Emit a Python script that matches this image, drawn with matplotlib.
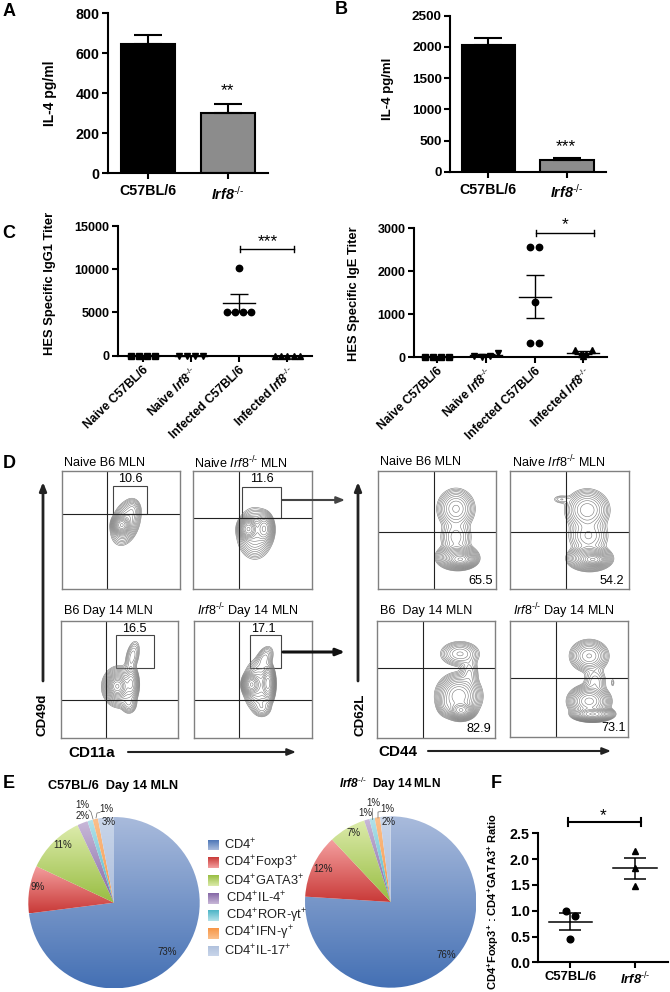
import numpy as np
import matplotlib
matplotlib.use('Agg')
import matplotlib.pyplot as plt
from matplotlib.colors import to_rgb
from matplotlib.patches import Rectangle

plt.rcParams['font.family'] = ['Liberation Sans', 'DejaVu Sans']
plt.rcParams['mathtext.fontset'] = 'custom'
plt.rcParams['mathtext.rm'] = 'Liberation Sans'
plt.rcParams['mathtext.it'] = 'Liberation Sans:italic'
plt.rcParams['mathtext.bf'] = 'Liberation Sans:bold'
plt.rcParams['mathtext.bfit'] = 'Liberation Sans:italic:bold'
plt.rcParams['mathtext.default'] = 'regular'

W, H = 670, 992

KO = r'$\mathbfit{Irf8}^{\text{-/-}}$'
KO_THIN = r'$\mathit{Irf8}^{\text{-/-}}$'

# panels A and B
strains = ['C57BL/6', KO]
il4_a = [647, 300]
il4_a_sem = [47, 48]
il4_b = [2030, 192]
il4_b_sem = [118, 32]

# panel C
titer_groups = ['Naive C57BL/6', 'Naive ' + KO, 'Infected C57BL/6', 'Infected ' + KO]
igg1 = [[20, 20, 20, 20], [20, 20, 20, 20],
        [5100, 5100, 10200, 5100, 5100], [20, 20, 20, 20, 20]]
igg1_mean = [20, 20, 6120, 20]
igg1_sem = [0, 0, 1020, 0]
ige = [[10, 10, 10, 10], [30, 10, 30, 100],
       [320, 2560, 1280, 2560, 320], [160, 60, 30, 60, 160]]
ige_mean = [10, 40, 1408, 100]
ige_sem = [0, 20, 500, 30]

# panel D
cd49d_names = ['Naive B6 MLN', 'Naive ' + KO_THIN + ' MLN', 'B6 Day 14 MLN', KO_THIN + ' Day 14 MLN']
cd49d_pct = ['10.6', '11.6', '16.5', '17.1']
cd62l_names = ['Naive B6 MLN', 'Naive ' + KO_THIN + ' MLN', 'B6  Day 14 MLN', KO_THIN + ' Day 14 MLN']
cd62l_pct = ['65.5', '54.2', '82.9', '73.1']

# density blobs: x, y, sx, sy, weight, rho
cd49d_blobs = [
    [(.507, .54, .028, .03, 1, 0), (.54, .56, .05, .075, .12, .3), (.6, .67, .03, .04, .035, 0)],
    [(.465, .507, .03, .035, 1, 0), (.6, .51, .03, .05, .35, 0), (.52, .47, .06, .085, .12, 0)],
    [(.48, .445, .032, .038, 1, 0), (.5, .44, .055, .065, .25, 0), (.61, .7, .03, .065, .035, .4),
     (.58, .3, .03, .04, .05, 0), (.6, .47, .025, .06, .2, 0)],
    [(.49, .46, .027, .035, 1, 0), (.63, .47, .022, .06, .6, 0), (.55, .45, .05, .085, .16, 0),
     (.6, .68, .035, .05, .04, .4), (.58, .26, .035, .035, .035, 0)],
]
cd62l_blobs = [
    [(.7, .25, .045, .025, 1, 0), (.67, .27, .065, .04, .35, 0), (.66, .68, .065, .07, .12, 0),
     (.66, .44, .06, .07, .05, 0)],
    [(.7, .25, .045, .022, 1, 0), (.67, .26, .07, .04, .35, 0), (.65, .67, .075, .07, .15, 0),
     (.66, .45, .075, .07, .06, 0), (.43, .76, .04, .02, .014, 0)],
    [(.71, .24, .04, .028, 1, 0), (.69, .36, .07, .07, .35, 0), (.7, .72, .07, .045, .07, 0),
     (.78, .55, .035, .07, .035, 0), (.59, .28, .035, .04, .05, 0)],
    [(.7, .2, .06, .022, 1, 0), (.67, .31, .065, .05, .4, 0), (.67, .7, .065, .055, .13, 0),
     (.72, .48, .045, .06, .03, 0), (.87, .47, .01, .025, .007, 0)],
]

# panel E
pie_labels = [r'CD4$^{+}$', r'CD4$^{+}$Foxp3$^{+}$', r'CD4$^{+}$GATA3$^{+}$', r'CD4$^{+}$IL-4$^{+}$',
              r'CD4$^{+}$ROR-γt$^{+}$', r'CD4$^{+}$IFN-γ$^{+}$', r'CD4$^{+}$IL-17$^{+}$']
pie_b6 = [73, 9, 11, 2, 1, 1, 3]
pie_irf8 = [76, 12, 7, 1, 1, 1, 2]
pie_top = ['#a9bbdc', '#f4a0a0', '#dcebab', '#c8b8d8', '#b4e2ea', '#fbc08c', '#c9d6ea']
pie_bottom = ['#4470b4', '#c93a38', '#98bd42', '#8568a6', '#4cb4c6', '#f79646', '#aebfdc']

# panel F
ratio_b6 = [1.0, 0.46, 0.9]
ratio_irf8 = [2.16, 1.82, 1.47]
ratio_mean = [0.79, 1.82]
ratio_sem = [0.165, 0.205]

fig = plt.figure(figsize=(W / 100, H / 100), dpi=100, facecolor='white')


def px_axes(x0, x1, ytop, ybot):
    return fig.add_axes([x0 / W, 1 - ybot / H, (x1 - x0) / W, (ybot - ytop) / H])


def style(ax, size=9, xsize=None):
    for s in ['top', 'right']:
        ax.spines[s].set_visible(False)
    for s in ['left', 'bottom']:
        ax.spines[s].set_linewidth(1.5)
    ax.tick_params(width=1.5, length=4, labelsize=size, pad=2)
    if xsize:
        ax.tick_params(axis='x', labelsize=xsize)
    for t in ax.get_yticklabels():
        t.set_fontweight('bold')
    for t in ax.get_xticklabels():
        t.set_fontweight('bold')


def bar_panel(box, vals, sem, ymax, yticks, xlim, size):
    ax = px_axes(*box)
    ax.bar(range(2), vals, width=0.68, color=['black', '#8c8c8c'], edgecolor='black', linewidth=1.5)
    ax.errorbar(range(2), vals, yerr=[[0, 0], sem], fmt='none', ecolor='black',
                elinewidth=1.5, capsize=10, capthick=1.5)
    ax.set_xlim(*xlim)
    ax.set_ylim(0, ymax)
    ax.set_yticks(yticks)
    ax.set_xticks(range(2))
    ax.set_xticklabels(strains)
    style(ax, size, 10.3)
    ax.tick_params(axis='x', pad=4)
    return ax


def spread(vals, step, tol):
    # points with nearly the same value sit side by side
    off = np.zeros(len(vals))
    used = [False] * len(vals)
    for i in range(len(vals)):
        if used[i]:
            continue
        grp = [j for j in range(len(vals)) if not used[j] and abs(vals[j] - vals[i]) <= tol]
        for k, j in enumerate(grp):
            used[j] = True
            off[j] = (k - (len(grp) - 1) / 2) * step
    return off


def titer_panel(box, data, means, sems, ymax, yticks, xlim, step):
    ax = px_axes(*box)
    markers = ['s', 'v', 'o', '^']
    spacing = (box[1] - box[0]) / (xlim[1] - xlim[0])
    for i, vals in enumerate(data):
        off = spread(vals, step[i] / spacing, ymax * 0.035)
        ax.plot(i + off, vals, markers[i], color='black', ms=4.6, ls='none', clip_on=False, zorder=3)
        ax.plot([i - 16 / spacing, i + 16 / spacing], [means[i]] * 2, color='black', lw=1, clip_on=False)
        if sems[i] > 0:
            ax.errorbar([i], [means[i]], yerr=sems[i], fmt='none', ecolor='black',
                        elinewidth=1, capsize=6.2, capthick=1)
    ax.set_xlim(*xlim)
    ax.set_ylim(0, ymax)
    ax.set_yticks(yticks)
    ax.set_xticks(range(4))
    ax.set_xticklabels(titer_groups, rotation=44, ha='right', rotation_mode='anchor')
    style(ax, 9, 8.7)
    ax.tick_params(axis='x', pad=2)
    return ax


def bracket(ax, x0, x1, y, cap, lw=1):
    ax.plot([x0, x1], [y, y], color='black', lw=lw, clip_on=False)
    ax.plot([x0, x0], [y - cap, y + cap], color='black', lw=lw, clip_on=False)
    ax.plot([x1, x1], [y - cap, y + cap], color='black', lw=lw, clip_on=False)


def flow_panel(box, vline, hline, blobs, gate=None):
    # box, lines and gate come in as image pixels
    ax = px_axes(box[0], box[1], box[2], box[3])
    ax.set_xlim(box[0], box[1])
    ax.set_ylim(box[3], box[2])
    ax.set_xticks([])
    ax.set_yticks([])
    for s in ax.spines.values():
        s.set_color('#808080')
        s.set_linewidth(1)
    gx, gy = np.meshgrid(np.linspace(0, 1, 300), np.linspace(0, 1, 300))
    z = np.zeros_like(gx)
    for cx, cy, sx, sy, w, rho in blobs:
        u = (gx - cx) / sx
        v = (gy - cy) / sy
        z += w * np.exp(-(u * u - 2 * rho * u * v + v * v) / (2 * (1 - rho * rho)))
    lev = z.max() * np.geomspace(0.004, 0.92, 17)
    ax.contour(box[0] + gx * (box[1] - box[0]), box[3] - gy * (box[3] - box[2]), z,
               levels=lev, colors='#777777', linewidths=0.4)
    ax.axvline(vline, color='#222222', lw=0.8)
    ax.axhline(hline, color='#222222', lw=0.8)
    if gate:
        ax.add_patch(Rectangle((gate[0], gate[2]), gate[1] - gate[0], gate[3] - gate[2],
                               fc='none', ec='#444444', lw=0.8))
    return ax


def gradient_fill(ax, patch, top, bottom):
    patch.set_facecolor('none')
    patch.set_edgecolor('none')
    b = patch.get_path().get_extents(patch.get_patch_transform())
    t = np.linspace(0, 1, 128)[:, None, None]
    img = (1 - t) * np.array(to_rgb(top)) + t * np.array(to_rgb(bottom))
    im = ax.imshow(img, extent=(b.x0, b.x1, b.y0, b.y1), aspect='auto', origin='upper', zorder=1)
    im.set_clip_path(patch)


def pie_panel(cx, cy, r, vals):
    ax = px_axes(cx - r, cx + r, cy - r, cy + r)
    wedges, _ = ax.pie(vals, startangle=90, counterclock=False, radius=1)
    for w, a, b in zip(wedges, pie_top, pie_bottom):
        gradient_fill(ax, w, a, b)
    ax.set_xlim(-1, 1)
    ax.set_ylim(-1, 1)
    ax.set_aspect('equal')
    ax.axis('off')


# A
ax_a = bar_panel((108, 268, 13.3, 173.3), il4_a, il4_a_sem, 800, [0, 200, 400, 600, 800], (-0.5, 1.5), 10.3)
ax_a.set_ylabel('IL-4 pg/ml', fontweight='bold', fontsize=10)
ax_a.yaxis.set_label_coords((57 - 108) / 160, 0.5)
# B
ax_b = bar_panel((450, 606, 15.7, 172), il4_b, il4_b_sem, 2500, [0, 500, 1000, 1500, 2000, 2500],
                 ((450 - 488.3) / 78.6, (606 - 488.3) / 78.6), 9.7)
ax_b.set_ylabel('IL-4 pg/ml', fontweight='bold', fontsize=9.5)
ax_b.yaxis.set_label_coords((394 - 450) / 156, 0.53)

# C
ax_c1 = titer_panel((118, 312, 226, 355.7), igg1, igg1_mean, igg1_sem, 15000,
                    [0, 5000, 10000, 15000], ((118 - 142.7) / 48.2, (312 - 142.7) / 48.2),
                    [8, 8, 8, 6.3])
ax_c1.set_ylabel('HES Specific IgG1 Titer', fontweight='bold', fontsize=9.3)
ax_c1.yaxis.set_label_coords((56 - 118) / 194, 0.56)
bracket(ax_c1, 2.02, 3.14, 12340, 350)
ax_c2 = titer_panel((414, 606.7, 228.3, 357), ige, ige_mean, ige_sem, 3000,
                    [0, 1000, 2000, 3000], ((414 - 436.7) / 48.9, (606.7 - 436.7) / 48.9),
                    [8, 8, 9.3, 5.5])
ax_c2.set_ylabel('HES Specific IgE Titer', fontweight='bold', fontsize=9.3)
ax_c2.yaxis.set_label_coords((360 - 414) / 192.7, 0.49)
bracket(ax_c2, 2.03, 3.22, 2900, 70)

# D, boxes read in 3x crop pixels
ld = [(185, 540, 62, 417, 322, 193, (340, 440, 108, 193)),
      (580, 935, 62, 417, 718, 205, (725, 843, 112, 205)),
      (182, 535, 514, 865, 319, 751, (347, 463, 555, 655)),
      (581, 935, 514, 865, 718, 751, (749, 842, 556, 655))]
for spec, blobs in zip(ld, cd49d_blobs):
    x0, x1, y0, y1, vl, hl, g = spec
    flow_panel((x0 / 3, x1 / 3, 450 + y0 / 3, 450 + y1 / 3), vl / 3, 450 + hl / 3, blobs,
               (g[0] / 3, g[1] / 3, 450 + g[2] / 3, 450 + g[3] / 3))
rd = [(128, 484, 63, 417, 298, 246), (526, 881, 63, 417, 694, 245),
      (127, 481, 513, 865, 265, 655), (526, 879, 513, 862, 664, 685)]
for spec, blobs in zip(rd, cd62l_blobs):
    x0, x1, y0, y1, vl, hl = spec
    flow_panel((335 + x0 / 3, 335 + x1 / 3, 450 + y0 / 3, 450 + y1 / 3), 335 + vl / 3, 450 + hl / 3, blobs)

# E
pie_panel(114, 902.7, 85.7, pie_b6)
pie_panel(390.7, 902, 85.7, pie_irf8)

# F
ax_f = px_axes(538.3, 668, 833.3, 962.3)
xl = ((538.3 - 570.3) / 64.7, (668 - 570.3) / 64.7)
for i, (vals, m, mk) in enumerate(zip([ratio_b6, ratio_irf8], ratio_mean, ['o', '^'])):
    off = [[-13 / 194, 0, 13 / 194], [0, 0, 0]][i]
    ax_f.plot(np.array(off) + i, vals, mk, color='black', ms=4.8, ls='none')
    ax_f.plot([i - 21.7 / 64.7, i + 21.7 / 64.7], [m, m], color='black', lw=1.1)
ax_f.errorbar(range(2), ratio_mean, yerr=ratio_sem, fmt='none', ecolor='black',
              elinewidth=1.1, capsize=8, capthick=1.1)
ax_f.set_xlim(*xl)
ax_f.set_ylim(0, 2.5)
ax_f.set_yticks([0, 0.5, 1, 1.5, 2, 2.5])
ax_f.set_yticklabels(['0.0', '0.5', '1.0', '1.5', '2.0', '2.5'])
ax_f.set_xticks(range(2))
ax_f.set_xticklabels(['C57BL/6', KO])
style(ax_f, 10.3, 9.4)
ax_f.set_ylabel(r'CD4$\mathbf{^{+}}$Foxp3$\mathbf{^{+}}$ : CD4$\mathbf{^{+}}$GATA3$\mathbf{^{+}}$ Ratio',
                fontweight='bold', fontsize=8)
ax_f.yaxis.set_label_coords((501 - 538.3) / 129.7, 0.47)
bracket(ax_f, -0.04, 1.09, 2.72, 0.08, lw=1.5)

# overlay in image pixels for labels, arrows and legend
ov = fig.add_axes([0, 0, 1, 1], zorder=10)
ov.set_xlim(0, W)
ov.set_ylim(H, 0)
ov.axis('off')
ov.patch.set_alpha(0)


def txt(x, y, s, size=9.1, ha='center', **kw):
    ov.text(x, y, s, fontsize=size, ha=ha, va='center', **kw)


def arrow(x0, y0, x1, y1, lw=1.5, color='#222222'):
    ov.annotate('', xy=(x1, y1), xytext=(x0, y0),
                arrowprops=dict(arrowstyle='-|>,head_length=0.5,head_width=0.2', lw=lw, color=color,
                                shrinkA=0, shrinkB=0))


for s, x, y in [('A', 9, 12), ('B', 341, 10), ('C', 9, 233), ('D', 9, 463), ('E', 9, 784), ('F', 496, 783)]:
    txt(x, y, s, size=13, fontweight='bold')

txt(227, 91, '**', size=12.5)
txt(566, 147, '***', size=12.5)
txt(268, 242, '***', size=12.5)
txt(565, 225, '*', size=12.5)
txt(603, 816, '*', size=12.5)

# D text
for (x, y), s in zip([(64, 463), (194, 463), (64, 611), (197, 611)], cd49d_names):
    txt(x, y, s, ha='left')
for (x, y), s in zip([(130, 479.5), (262, 479.5), (134, 629), (263, 629)], cd49d_pct):
    txt(x, y, s)
for (x, y), s in zip([(380, 462), (512, 462), (380, 611), (513, 611)], cd62l_names):
    txt(x, y, s, ha='left')
for (x, y), s in zip([(481, 581), (612, 581), (479, 729), (614, 728)], cd62l_pct):
    txt(x, y, s)

arrow(43, 681, 43, 482, lw=2)
arrow(128, 752, 296, 752)
arrow(282, 500, 345, 500, lw=1.5, color='#444444')
arrow(283, 652, 345, 652, lw=2.2, color='#111111')
arrow(358, 681, 358, 482, lw=2)
arrow(428, 751, 611, 751)
txt(43, 715, 'CD49d', size=9.6, fontweight='bold', rotation=90)
txt(92, 753, 'CD11a', size=11, fontweight='bold')
txt(360, 715, 'CD62L', size=9.6, fontweight='bold', rotation=90)
txt(398, 752, 'CD44', size=11, fontweight='bold')

# E text
txt(113, 786.5, 'C57BL/6  Day 14 MLN', size=9.2, fontweight='bold')
txt(390, 784, KO + '  Day 14 MLN', size=8.6, fontweight='bold')
for x, y, s in [(82, 805.5, '1%'), (82.5, 816, '2%'), (106.5, 809.5, '1%'), (109, 822, '3%'),
                (63, 845, '11%'), (38, 887, '9%'), (167, 952, '73%'),
                (373, 803.5, '1%'), (365, 813.5, '1%'), (387, 808.5, '1%'), (389, 822, '2%'),
                (354, 833.5, '7%'), (323, 868.5, '12%'), (446, 955.5, '76%')]:
    txt(x, y, s, size=7, color='#222222')
for xs, ys in [([89, 91, 93], [810, 812, 819]), ([100, 97, 96], [812.5, 813, 818]),
               ([372, 372], [808, 819]), ([381, 378, 378], [811.5, 812, 818])]:
    ov.plot(xs, ys, color='#666666', lw=0.5)

rows = [845, 862.7, 880.7, 898.3, 915.7, 933.3, 951]
text_x = [224, 224, 224, 225.5, 226, 224, 224.5]
for y, s, a, b, x in zip(rows, pie_labels, pie_top, pie_bottom, text_x):
    r = Rectangle((208, y - 5.5), 11, 11)
    ov.add_patch(r)
    gradient_fill(ov, r, a, b)
    txt(x, y, s, size=9.3, ha='left', color='#222222')
ov.set_xlim(0, W)
ov.set_ylim(H, 0)

fig.savefig('out.png', dpi=100)
